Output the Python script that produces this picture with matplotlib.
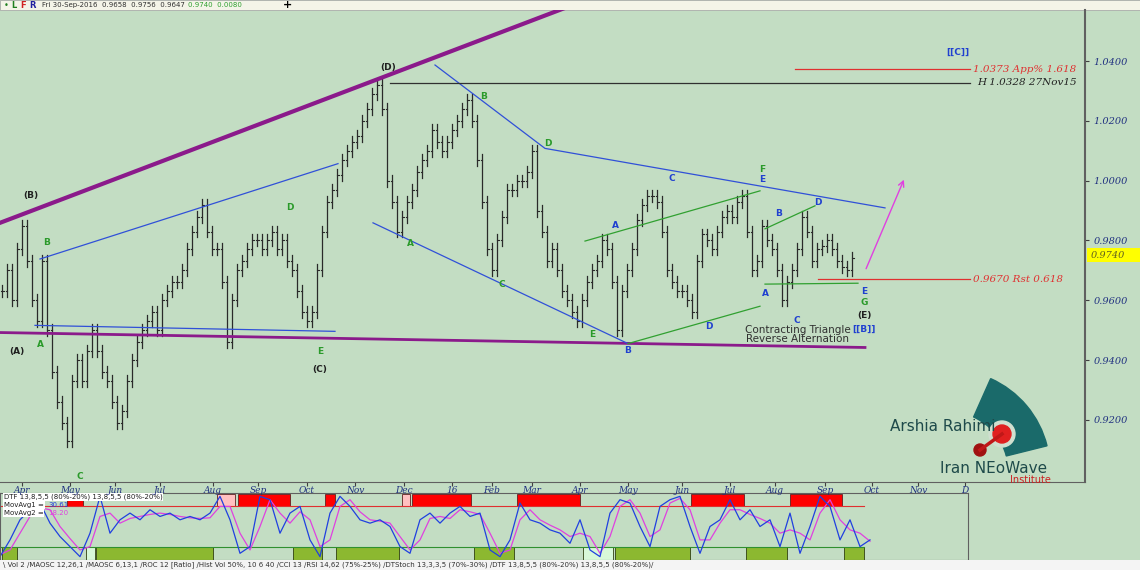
import matplotlib.pyplot as plt
import matplotlib.patches as mpatches
import numpy as np

# daily-ish closes, Apr 2015 .. 30 Sep 2016 (one value per ~5px of the original)
closes = [0.963, 0.970, 0.960, 0.977, 0.985, 0.973, 0.960, 0.953, 0.973, 0.950, 0.936, 0.926, 0.919, 0.913, 0.933,
          0.940, 0.933, 0.943, 0.950, 0.943, 0.936, 0.933, 0.926, 0.919, 0.923, 0.933, 0.940, 0.946, 0.950, 0.953,
          0.956, 0.950, 0.960, 0.963, 0.966, 0.966, 0.970, 0.977, 0.983, 0.988, 0.992, 0.983, 0.977, 0.977, 0.966,
          0.946, 0.960, 0.970, 0.973, 0.977, 0.980, 0.980, 0.977, 0.980, 0.983, 0.977, 0.980, 0.973, 0.970, 0.963,
          0.956, 0.953, 0.956, 0.970, 0.983, 0.993, 0.997, 1.002, 1.007, 1.010, 1.013, 1.015, 1.020, 1.024, 1.029,
          1.032, 1.024, 1.000, 0.993, 0.983, 0.988, 0.993, 0.997, 1.003, 1.007, 1.010, 1.017, 1.013, 1.010, 1.013,
          1.017, 1.020, 1.024, 1.027, 1.020, 1.007, 0.993, 0.977, 0.970, 0.980, 0.988, 0.997, 0.997, 1.000, 1.000,
          1.003, 1.010, 0.990, 0.983, 0.973, 0.977, 0.970, 0.963, 0.960, 0.956, 0.953, 0.960, 0.966, 0.970, 0.973,
          0.980, 0.977, 0.966, 0.950, 0.963, 0.970, 0.977, 0.987, 0.992, 0.995, 0.995, 0.993, 0.983, 0.970, 0.966,
          0.963, 0.963, 0.960, 0.956, 0.973, 0.982, 0.980, 0.977, 0.983, 0.988, 0.990, 0.988, 0.993, 0.995, 0.983,
          0.970, 0.973, 0.985, 0.980, 0.977, 0.970, 0.960, 0.966, 0.970, 0.977, 0.988, 0.983, 0.973, 0.977, 0.978,
          0.980, 0.977, 0.973, 0.971, 0.970, 0.974]

osc_fast = [5, 30, 60, 75, 85, 55, 35, 20, 5, 40, 95, 40, 60, 70, 60, 75, 65, 70, 60, 65, 60, 70, 95, 60, 10, 20,
            95, 90, 40, 70, 80, 30, 5, 70, 95, 80, 60, 55, 60, 50, 20, 10, 60, 70, 55, 70, 80, 65, 70, 15, 5, 30,
            85, 60, 55, 45, 40, 25, 60, 15, 5, 70, 90, 85, 50, 20, 80, 90, 95, 50, 10, 50, 60, 90, 60, 75, 50, 60,
            20, 70, 10, 50, 95, 80, 30, 60, 20, 30]
osc_slow = [8, 15, 40, 65, 78, 75, 50, 32, 15, 20, 65, 70, 55, 62, 65, 68, 70, 68, 65, 63, 62, 63, 80, 80, 40, 15,
            50, 90, 70, 55, 72, 60, 20, 30, 80, 90, 72, 60, 58, 55, 35, 15, 30, 62, 65, 62, 75, 72, 68, 40, 10, 15,
            60, 75, 60, 52, 45, 35, 40, 35, 10, 35, 80, 90, 70, 35, 45, 85, 92, 75, 30, 30, 55, 75, 75, 68, 62, 55,
            40, 45, 40, 30, 70, 90, 60, 45, 40, 28]

month_pos = [22, 70, 115, 160, 213, 258, 307, 355, 404, 452, 492, 532, 580, 628, 682, 730, 775, 825, 872, 918, 965]
month_lab = ["Apr", "May", "Jun", "Jul", "Aug", "Sep", "Oct", "Nov", "Dec", "16", "Feb", "Mar", "Apr", "May", "Jun",
             "Jul", "Aug", "Sep", "Oct", "Nov", "D"]
price_ticks = [1.04, 1.02, 1.00, 0.98, 0.96, 0.94, 0.92]
last_price = 0.9740

red_zones = [(67, 83), (238, 290), (325, 335), (412, 471), (517, 580), (691, 744), (790, 842)]
pink_zones = [(217, 235), (402, 410)]
green_zones = [(2, 17), (96, 213), (293, 322), (336, 399), (474, 514), (615, 690), (746, 787), (844, 864)]
lgreen_zones = [(86, 95), (583, 613)]

BG = "#c3ddc3"
W, H = 1140, 570
fig = plt.figure(figsize=(11.4, 5.7), dpi=100)
fig.patch.set_facecolor(BG)

def fx(px):
    return px / W

def fy(py):
    return 1 - py / H

# logo graphic (behind everything)
lg = fig.add_axes([fx(940), fy(472), fx(110), fy(400) - fy(472)])
lg.set_xlim(0, 110)
lg.set_ylim(0, 72)
lg.set_aspect("equal")
lg.axis("off")
lg.set_zorder(1)
lg.add_patch(mpatches.Wedge((10, 2), 100, 14, 66, width=42, color="#1a6a6a", clip_on=False))
lg.add_patch(mpatches.Circle((62, 38), 13, color="#d0e0d0"))
lg.add_patch(mpatches.Circle((62, 38), 9, color="#e02020"))
lg.add_patch(mpatches.Circle((40, 22), 6, color="#a01010"))
lg.plot([40, 62], [22, 38], color="#c01818", lw=2.5)

YTOP, YBOT = 1.0571, 0.8992
ax = fig.add_axes([0, fy(482), fx(1085), fy(10) - fy(482)])
ax.set_facecolor(BG)
ax.set_xlim(0, 1085)
ax.set_ylim(YBOT, YTOP)
ax.set_zorder(2)
ax.patch.set_alpha(0)

xs = np.arange(len(closes)) * 5 + 2
opens = [closes[0]] + closes[:-1]
for x, o, c in zip(xs, opens, closes):
    hi = max(o, c) + 0.002
    lo = min(o, c) - 0.002
    ax.plot([x, x], [lo, hi], color="#2a2a2a", lw=0.9)
    ax.plot([x - 1.5, x], [o, o], color="#2a2a2a", lw=0.8)
    ax.plot([x, x + 1.5], [c, c], color="#2a2a2a", lw=0.8)

# trend lines
ax.plot([0, 580], [0.9859, 1.0597], color="#8b1a8b", lw=3)
ax.plot([0, 865], [0.9492, 0.9442], color="#8b1a8b", lw=2)
ax.plot([40, 338], [0.9738, 1.0057], color="#3050d8", lw=0.9)
ax.plot([35, 335], [0.9516, 0.9496], color="#3050d8", lw=0.9)
ax.plot([435, 545, 885], [1.0387, 1.0108, 0.9909], color="#3050d8", lw=0.9)
ax.plot([373, 628], [0.9859, 0.9455], color="#3050d8", lw=0.9)
ax.plot([585, 760], [0.9798, 0.9966], color="#30a030", lw=0.9)
ax.plot([628, 760], [0.9455, 0.9580], color="#30a030", lw=0.9)
ax.plot([765, 815], [0.9839, 0.9916], color="#30a030", lw=0.9)
ax.plot([765, 858], [0.9654, 0.9657], color="#30a030", lw=0.9)
ax.plot([818, 970], [0.9670, 0.9670], color="#e03030", lw=0.9)
ax.plot([795, 970], [1.0373, 1.0373], color="#e03030", lw=0.9)
ax.plot([390, 970], [1.0328, 1.0328], color="#303030", lw=0.9)
ax.annotate("", xy=(905, 1.0012), xytext=(865, 0.9697),
            arrowprops=dict(arrowstyle="->", color="#e040e0", lw=1))

ser = dict(family="DejaVu Serif", style="italic", fontsize=7.5)
ax.text(973, 1.0373, "1.0373 App% 1.618", color="#e03030", va="center", **ser)
ax.text(977, 1.0328, "H 1.0328 27Nov15", color="#202020", va="center", **ser)
ax.text(973, 0.9670, "0.9670 Rst 0.618", color="#e03030", va="center", **ser)

GR, BL, BK = "#2a9a2a", "#2040d0", "#202020"

def price(py):
    return 1.04 - (py - 61) / 2975.0

labels = [(31, 195, "(B)", BK), (47, 242, "B", GR), (40, 343, "A", GR), (17, 350, "(A)", BK), (80, 474, "C", GR),
          (290, 207, "D", GR), (320, 350, "E", GR), (320, 368, "(C)", BK), (388, 67, "(D)", BK), (410, 243, "A", GR),
          (484, 96, "B", GR), (502, 283, "C", GR), (548, 143, "D", GR), (592, 333, "E", GR), (628, 349, "B", BL),
          (615, 225, "A", BL), (672, 178, "C", BL), (709, 325, "D", BL), (762, 169, "F", GR), (762, 179, "E", BL),
          (765, 292, "A", BL), (779, 213, "B", BL), (797, 319, "C", BL), (818, 202, "D", BL), (864, 290, "E", BL),
          (864, 301, "G", GR), (864, 314, "(E)", BK), (864, 328, "[[B]]", BL), (958, 52, "[[C]]", BL)]
for px, py, t, col in labels:
    ax.text(px, price(py), t, color=col, fontsize=6.5, ha="center", va="center", fontweight="bold")
ax.text(798, price(333), "Contracting Triangle\nReverse Alternation", color="#303030", fontsize=7.5,
        ha="center", va="center", linespacing=0.95)

ax.text(890, price(425), "Arshia Rahimi", color="#1e4a4a", fontsize=11, va="center")
ax.text(940, price(466), "Iran NEoWave", color="#1e4a4a", fontsize=11, va="center")
ax.text(1010, price(478), "Institute", color="#cc2020", fontsize=7, va="center")

ax.set_xticks(month_pos)
ax.set_xticklabels(month_lab)
ax.tick_params(axis="x", length=3, pad=0, labelsize=6.5, labelcolor="#203080", color="#404040")
for lab in ax.get_xticklabels():
    lab.set_fontfamily("DejaVu Serif")
    lab.set_fontstyle("italic")
ax.yaxis.tick_right()
ax.set_yticks(price_ticks)
ax.set_yticklabels(["%.4f" % v for v in price_ticks])
ax.tick_params(axis="y", length=3, pad=3, labelsize=7, labelcolor="#203080", color="#404040")
for lab in ax.get_yticklabels():
    lab.set_fontfamily("DejaVu Serif")
    lab.set_fontstyle("italic")
for s in ["top", "left"]:
    ax.spines[s].set_visible(False)
ax.spines["right"].set_color("#606060")
ax.spines["right"].set_linewidth(1.5)
ax.spines["bottom"].set_color("#606060")
fig.patches.append(mpatches.Rectangle((fx(1087), fy(262)), fx(53), 14 / H, transform=fig.transFigure,
                                      fc="#ffff00", ec="none", zorder=3))
fig.text(fx(1091), fy(255), "%.4f" % last_price, ha="left", va="center", fontsize=7, color="#606020",
         family="DejaVu Serif", style="italic", zorder=4)

# header strip
fig.patches.append(mpatches.Rectangle((0, fy(10)), 1, 10 / H, transform=fig.transFigure, fc="#f4f4e8",
                                      ec="#a0a0a0", lw=0.5))
fig.text(fx(4), fy(5), "•", color="#208020", fontsize=6, va="center")
fig.text(fx(11), fy(5), "L", color="#208020", fontsize=6, va="center", fontweight="bold")
fig.text(fx(20), fy(5), "F", color="#d02020", fontsize=6, va="center", fontweight="bold")
fig.text(fx(29), fy(5), "R", color="#2020a0", fontsize=6, va="center", fontweight="bold")
fig.text(fx(42), fy(5), "Fri 30-Sep-2016  0.9658  0.9756  0.9647", color="#303030", fontsize=5, va="center")
fig.text(fx(188), fy(5), "0.9740  0.0080", color="#30a030", fontsize=5, va="center")
fig.text(fx(288), fy(5), "+", color="#000000", fontsize=8, va="center", ha="center", fontweight="bold")

# oscillator panel
ax2 = fig.add_axes([0, fy(560), fx(968), fy(493) - fy(560)])
ax2.set_facecolor(BG)
ax2.set_xlim(0, 968)
ax2.set_ylim(0, 100)
ox = np.arange(len(osc_fast)) * 10
for a, b in red_zones:
    ax2.add_patch(mpatches.Rectangle((a, 80), b - a, 19, fc="#ff0000", ec="#602020", lw=0.6))
for a, b in pink_zones:
    ax2.add_patch(mpatches.Rectangle((a, 80), b - a, 19, fc="#ffc0c0", ec="#602020", lw=0.6))
for a, b in green_zones:
    ax2.add_patch(mpatches.Rectangle((a, 0), b - a, 20, fc="#8cb830", ec="#304010", lw=0.6))
for a, b in lgreen_zones:
    ax2.add_patch(mpatches.Rectangle((a, 0), b - a, 20, fc="#d8f8d8", ec="#304010", lw=0.6))
ax2.plot([0, 864], [80, 80], color="#e03030", lw=0.8)
ax2.plot([0, 864], [20, 20], color="#309030", lw=0.8)
ax2.plot(ox, osc_slow, color="#e040e0", lw=0.9)
ax2.plot(ox, osc_fast, color="#2040e0", lw=0.9)
ax2.set_xticks([])
ax2.set_yticks([])
for s in ax2.spines.values():
    s.set_color("#606060")
ax2.text(4, 94, "DTF 13,8,5,5 (80%-20%) 13,8,5,5 (80%-20%)", fontsize=5, va="center", color="#202020",
         bbox=dict(fc="white", ec="none", pad=0.5))
ax2.text(4, 82, "MovAvg1 =", fontsize=5, va="center", color="#202020", bbox=dict(fc="white", ec="none", pad=0.5))
ax2.text(48, 82, "30.61", fontsize=5, va="center", color="#2040e0")
ax2.text(4, 70, "MovAvg2 =", fontsize=5, va="center", color="#202020", bbox=dict(fc="white", ec="none", pad=0.5))
ax2.text(48, 70, "18.20", fontsize=5, va="center", color="#e040e0")

# status strip
fig.patches.append(mpatches.Rectangle((0, 0), 1, 10 / H, transform=fig.transFigure, fc="#f4f4f4", ec="none"))
fig.text(fx(3), fy(565), "\\ Vol 2 /MAOSC 12,26,1 /MAOSC 6,13,1 /ROC 12 [Ratio] /Hist Vol 50%, 10 6 40 /CCI 13 "
         "/RSI 14,62 (75%-25%) /DTStoch 13,3,3,5 (70%-30%) /DTF 13,8,5,5 (80%-20%) 13,8,5,5 (80%-20%)/",
         fontsize=5, va="center", color="#303030")

fig.savefig("out.png", dpi=100, facecolor=BG)
